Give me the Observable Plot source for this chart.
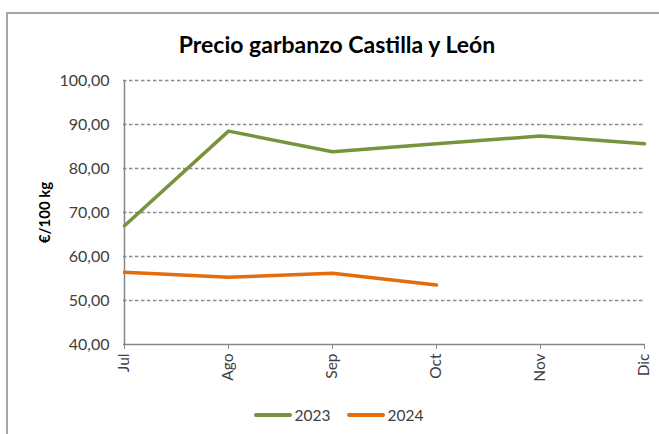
<!DOCTYPE html>
<html>
<head>
<meta charset="utf-8">
<script src="https://cdn.jsdelivr.net/npm/d3@7"></script>
<script src="https://cdn.jsdelivr.net/npm/@observablehq/plot@0.6"></script>
<style>
  html, body { margin: 0; padding: 0; background: #fff; }
  #wrap { position: relative; width: 659px; height: 434px; overflow: hidden; font-family: Lato, "Open Sans", sans-serif; }
  #border { position: absolute; left: 6px; top: 12px; width: 700px; height: 500px; border-left: 2px solid #a6a6a6; border-top: 2px solid #a6a6a6; box-sizing: border-box; }
  #title { position: absolute; top: 30px; left: 0; width: 674px; text-align: center; font-size: 23px; font-weight: bold; color: #000; }
  #chart { position: absolute; left: 0; top: 0; }
  #legend { position: absolute; top: 406px; left: 0; width: 677px; display: flex; justify-content: center; gap: 0; font-size: 15.5px; color: #404040; }
  .item { display: flex; align-items: center; margin: 0 8px; }
  .sw { width: 38px; height: 4px; margin-right: 3px; }
</style>
</head>
<body>
<div id="wrap">
  <div id="border"></div>
  <div id="title"></div>
  <div id="chart"></div>
  <div id="legend"></div>
</div>
<script>
const titleText = "Precio garbanzo Castilla y León";
const yLabel = "€/100 kg";
const months = ["Jul", "Ago", "Sep", "Oct", "Nov", "Dic"];
const series = ["2023", "2024"];
const colors = ["#77933C", "#E46C0A"];
const values2023 = [67.0, 88.5, 83.8, 85.6, 87.4, 85.6];
const values2024 = [56.4, 55.3, 56.2, 53.5];
const yTicks = [40, 50, 60, 70, 80, 90, 100];

const data = [
  ...values2023.map((v, i) => ({month: months[i], value: v, year: "2023"})),
  ...values2024.map((v, i) => ({month: months[i], value: v, year: "2024"}))
];

const fmt = d => d.toFixed(2).replace(".", ",");
const axisColor = "#868686";

const chart = Plot.plot({
  width: 659,
  height: 434,
  marginLeft: 123,
  marginRight: 14,
  marginTop: 80,
  marginBottom: 90,
  style: {fontFamily: "Lato, 'Open Sans', sans-serif", background: "transparent"},
  x: {type: "point", domain: months, padding: 0},
  y: {domain: [40, 100]},
  color: {domain: series, range: colors},
  marks: [
    Plot.gridY(yTicks.filter(t => t > 40), {stroke: "#8c8c8c", strokeOpacity: 1, strokeDasharray: "3.5,2.5", strokeWidth: 1.3}),
    Plot.ruleY([40], {stroke: axisColor, strokeWidth: 1.5}),
    Plot.ruleX([months[0]], {y1: 40, y2: 100, stroke: axisColor, strokeWidth: 1.5}),
    Plot.axisY(yTicks, {tickSize: 0, tickPadding: 14, tickFormat: fmt, fontSize: 16, fill: "#404040", label: null}),
    Plot.axisX({tickSize: 5, tickRotate: -90, tickPadding: 4, fontSize: 15.5, fill: "#404040", stroke: axisColor, label: null}),
    Plot.text([yLabel], {frameAnchor: "left", textAnchor: "middle", dx: -78, rotate: -90, fontWeight: "bold", fontSize: 15, fill: "#000"}),
    Plot.line(data, {x: "month", y: "value", z: "year", stroke: "year", strokeWidth: 3.5, strokeLinejoin: "round", strokeLinecap: "round"})
  ]
});
document.getElementById("chart").appendChild(chart);
document.getElementById("title").textContent = titleText;

const legend = document.getElementById("legend");
series.forEach((s, i) => {
  const item = document.createElement("div");
  item.className = "item";
  const sw = document.createElement("div");
  sw.className = "sw";
  sw.style.background = colors[i];
  sw.style.borderRadius = "2px";
  const lab = document.createElement("span");
  lab.textContent = s;
  item.appendChild(sw);
  item.appendChild(lab);
  legend.appendChild(item);
});
</script>
</body>
</html>
